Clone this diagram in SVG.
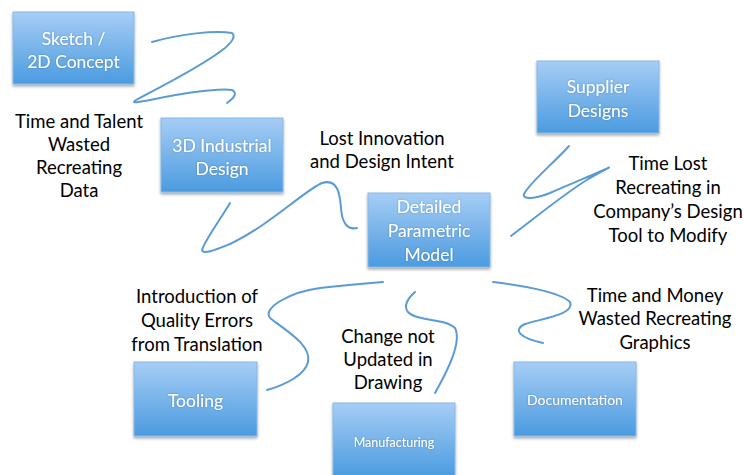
<svg xmlns="http://www.w3.org/2000/svg" width="743" height="475" viewBox="0 0 743 475">
  <defs>
    <linearGradient id="boxFill" x1="0" y1="0" x2="0" y2="1">
      <stop offset="0" stop-color="#a6cdf5"/>
      <stop offset="1" stop-color="#4b9be0"/>
    </linearGradient>
    <filter id="shadow" x="-10%" y="-10%" width="125%" height="130%">
      <feGaussianBlur in="SourceAlpha" stdDeviation="1.5"/>
      <feOffset dx="0" dy="2" result="b"/>
      <feComponentTransfer><feFuncA type="linear" slope="0.35"/></feComponentTransfer>
      <feMerge><feMergeNode/><feMergeNode in="SourceGraphic"/></feMerge>
    </filter>
    <filter id="glow" x="-10%" y="-30%" width="120%" height="160%">
      <feGaussianBlur in="SourceAlpha" stdDeviation="1"/>
      <feComponentTransfer><feFuncA type="linear" slope="0.25"/></feComponentTransfer>
      <feMerge><feMergeNode/><feMergeNode in="SourceGraphic"/></feMerge>
    </filter>
  </defs>
  <style>
    .box { fill: url(#boxFill); stroke: #86b8e8; stroke-width: 1; filter: url(#shadow); }
    .lbl { font-family: Lato, "Open Sans", "Liberation Sans", sans-serif; font-size: 17.5px; fill: #ffffff; text-anchor: middle; filter: url(#glow); }
    .lbl.sm { font-size: 13px; }
    .note { font-family: Lato, "Open Sans", "Liberation Sans", sans-serif; font-size: 18.5px; fill: #000000; text-anchor: middle; }
    .wire { fill: none; stroke: #5b9bd5; stroke-width: 2; stroke-linecap: round; stroke-linejoin: round; }
  </style>
  <rect width="743" height="475" fill="#ffffff"/>

  <!-- squiggly connectors -->
  <g id="connectors">
    <path class="wire" d="M152,42 C180,34 215,30 232,33 C236,36 232,42 225,48 C200,68 150,92 136,100 C130,104 138,102 150,100 C180,94 215,88 232,90 C238,93 234,98 227,103"/>
    <path class="wire" d="M230,203 C220,220 205,240 202,250 C203,255 215,250 230,244 C270,225 305,190 322,183 C338,178 340,195 341,208 C342,224 348,230 357,228"/>
    <path class="wire" d="M569,146 C555,162 530,182 524,194 C522,200 535,199 550,193 C575,182 600,172 608,168 C612,166 605,170 590,178 C565,193 535,218 511,236"/>
    <path class="wire" d="M267,390 C285,385 305,375 308,362 C312,345 285,330 270,318 C262,308 290,292 320,288 C345,285 370,283 383,282"/>
    <path class="wire" d="M415,292 C408,298 403,306 408,312 C418,322 445,318 455,328 C462,342 448,370 435,393"/>
    <path class="wire" d="M493,282 C520,285 560,292 570,302 C575,314 545,318 525,324 C512,330 520,338 543,343"/>
  </g>

  <!-- process boxes -->
  <g id="sketch">
    <rect class="box" x="13" y="12" width="121" height="72"/>
    <text class="lbl" x="73.5" y="45">Sketch /</text>
    <text class="lbl" x="73.5" y="68">2D Concept</text>
  </g>
  <g id="industrial">
    <rect class="box" x="161" y="118" width="122" height="74"/>
    <text class="lbl" x="222" y="152">3D Industrial</text>
    <text class="lbl" x="222" y="175">Design</text>
  </g>
  <g id="parametric">
    <rect class="box" x="368" y="193" width="122" height="74"/>
    <text class="lbl" x="429" y="213">Detailed</text>
    <text class="lbl" x="429" y="237">Parametric</text>
    <text class="lbl" x="429" y="261">Model</text>
  </g>
  <g id="supplier">
    <rect class="box" x="537" y="61" width="122" height="72"/>
    <text class="lbl" x="598" y="93">Supplier</text>
    <text class="lbl" x="598" y="117">Designs</text>
  </g>
  <g id="tooling">
    <rect class="box" x="134" y="362" width="123" height="74"/>
    <text class="lbl" x="195.5" y="407">Tooling</text>
  </g>
  <g id="manufacturing">
    <rect class="box" x="333" y="403" width="122" height="74"/>
    <text class="lbl sm" x="394" y="447" style="font-size:12.5px">Manufacturing</text>
  </g>
  <g id="documentation">
    <rect class="box" x="514" y="362" width="122" height="74"/>
    <text class="lbl sm" x="575" y="405" style="font-size:14px">Documentation</text>
  </g>

  <!-- issue notes -->
  <g id="note-talent">
    <text class="note" x="79" y="128">Time and Talent</text>
    <text class="note" x="79" y="151">Wasted</text>
    <text class="note" x="79" y="174">Recreating</text>
    <text class="note" x="79" y="197">Data</text>
  </g>
  <g id="note-innovation">
    <text class="note" x="382" y="145">Lost Innovation</text>
    <text class="note" x="382" y="168">and Design Intent</text>
  </g>
  <g id="note-supplier">
    <text class="note" x="668" y="170">Time Lost</text>
    <text class="note" x="668" y="194">Recreating in</text>
    <text class="note" x="668" y="218">Company’s Design</text>
    <text class="note" x="668" y="242">Tool to Modify</text>
  </g>
  <g id="note-quality">
    <text class="note" x="197" y="303">Introduction of</text>
    <text class="note" x="197" y="327">Quality Errors</text>
    <text class="note" x="197" y="351">from Translation</text>
  </g>
  <g id="note-drawing">
    <text class="note" x="388" y="343">Change not</text>
    <text class="note" x="388" y="366">Updated in</text>
    <text class="note" x="388" y="389">Drawing</text>
  </g>
  <g id="note-graphics">
    <text class="note" x="655" y="302">Time and Money</text>
    <text class="note" x="655" y="325">Wasted Recreating</text>
    <text class="note" x="655" y="349">Graphics</text>
  </g>
</svg>
